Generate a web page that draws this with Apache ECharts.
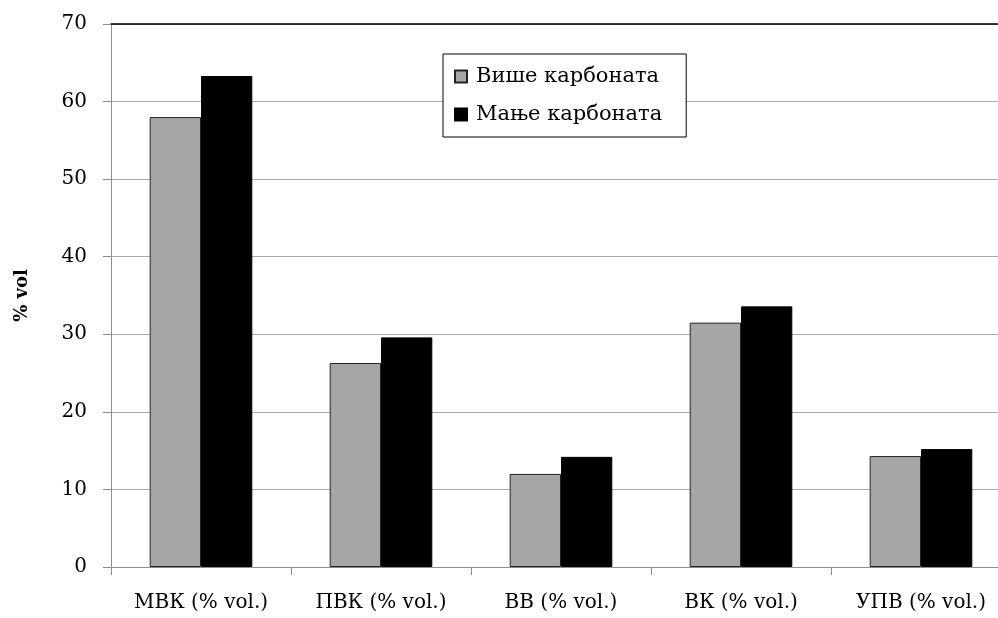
<!DOCTYPE html>
<html><head><meta charset="utf-8">
<script src="https://cdn.jsdelivr.net/npm/echarts@6/dist/echarts.min.js"></script>
<style>html,body{margin:0;padding:0;background:#fff}#c{width:998px;height:618px}</style>
</head><body><div id="c"></div>
<script>
const categories = ['МВК (% vol.)', 'ПВК (% vol.)', 'ВВ (% vol.)', 'ВК (% vol.)', 'УПВ (% vol.)'];
const seriesNames = ['Више карбоната', 'Мање карбоната'];
const moreCarbonate = [58.0, 26.3, 12.0, 31.5, 14.3];
const lessCarbonate = [63.3, 29.6, 14.2, 33.6, 15.2];
const yTicks = [0, 10, 20, 30, 40, 50, 60, 70];

const FONT = 'DejaVu Serif';
const chart = echarts.init(document.getElementById('c'));
chart.setOption({
  animation: false,
  backgroundColor: '#fff',
  textStyle: { fontFamily: FONT, color: '#000' },
  grid: { left: 111, top: 24, bottom: 51, width: 900, containLabel: false, outerBoundsMode: 'none' },
  legend: {
    orient: 'vertical',
    left: 443, top: 54,
    data: seriesNames,
    icon: 'rect', itemWidth: 12, itemHeight: 12, itemGap: 17,
    padding: [12, 24, 12, 11],
    borderColor: '#000', borderWidth: 1, backgroundColor: '#fff',
    textStyle: { fontFamily: FONT, fontSize: 21, color: '#000', padding: [0, 0, 0, 4] }
  },
  xAxis: [{
    type: 'category', data: categories,
    axisLine: { lineStyle: { color: '#8c8c8c', width: 1 } },
    axisTick: { show: true, length: 8, alignWithLabel: false, lineStyle: { color: '#8c8c8c' } },
    axisLabel: { fontFamily: FONT, fontSize: 20, color: '#000', margin: 26 },
    splitLine: { show: false }
  }, {
    type: 'category', data: categories, position: 'top',
    axisLine: { show: true, onZero: false, lineStyle: { color: '#000', width: 1.5 } },
    axisTick: { show: false }, axisLabel: { show: false }
  }],
  yAxis: {
    type: 'value', min: 0, max: 70, interval: 10,
    name: '% vol', nameLocation: 'middle', nameGap: 80, nameRotate: 90,
    nameTextStyle: { fontFamily: FONT, fontSize: 18, fontWeight: 'bold', color: '#000' },
    axisLine: { show: true, lineStyle: { color: '#8c8c8c' } },
    axisTick: { show: true, length: 8, lineStyle: { color: '#8c8c8c' } },
    axisLabel: { fontFamily: FONT, fontSize: 20, color: '#000', margin: 24,
      formatter: v => yTicks.includes(v) ? String(v) : '' },
    splitLine: { show: true, lineStyle: { color: '#a8a8a8', width: 1.2 } }
  },
  series: [{
    name: seriesNames[0], type: 'bar', data: moreCarbonate,
    barGap: '0%', barCategoryGap: '43%',
    itemStyle: { color: '#a6a6a6', borderColor: '#222', borderWidth: 1 }
  }, {
    name: seriesNames[1], type: 'bar', data: lessCarbonate,
    barGap: '0%', barCategoryGap: '43%',
    itemStyle: { color: '#000', borderColor: '#000', borderWidth: 1 }
  }]
});
</script></body></html>
